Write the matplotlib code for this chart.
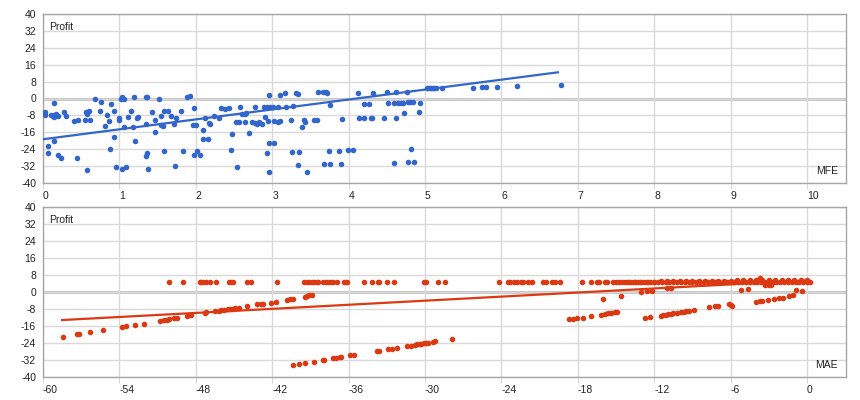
import numpy as np
import matplotlib
matplotlib.use("Agg")
from matplotlib import pyplot as plt

plt.rcParams['font.family'] = ['Liberation Sans', 'DejaVu Sans']
plt.rcParams['axes.unicode_minus'] = False

# =============================================================================
# data
# =============================================================================
# top panel: MFE vs Profit
mfe = [0.02, 0.02, 0.07, 0.07, 0.10, 0.13, 0.14, 0.15, 0.17, 0.20, 0.14, 0.15, 0.19, 0.23,
       0.27, 0.30, 0.41, 0.46, 0.45, 0.55, 0.56, 0.58, 0.60, 0.57, 0.57, 0.62, 0.68, 0.74,
       0.76, 0.81, 0.84, 0.86, 0.88, 0.89, 0.93, 0.93, 0.95, 0.99, 0.99, 1.02, 1.04, 1.06,
       1.04, 1.06, 1.09, 1.11, 1.15, 1.18, 1.19, 1.20, 1.23, 1.24, 1.35, 1.36, 1.35, 1.35,
       1.36, 1.38, 1.43, 1.46, 1.47, 1.52, 1.54, 1.55, 1.57, 1.58, 1.59, 1.64, 1.68, 1.72,
       1.73, 1.74, 1.80, 1.83, 1.88, 1.93, 1.97, 1.96, 2.00, 1.98, 2.01, 2.06, 2.10, 2.10,
       2.16, 2.12, 2.17, 2.18, 2.24, 2.30, 2.33, 2.38, 2.44, 2.46, 2.48, 2.52, 2.54, 2.57,
       2.58, 2.60, 2.64, 2.66, 2.65, 2.70, 2.74, 2.77, 2.80, 2.83, 2.86, 2.77, 2.89, 2.93,
       2.97, 3.01, 2.90, 2.93, 2.95, 2.96, 2.96, 2.96, 3.02, 3.03, 3.07, 3.10, 3.08, 3.10,
       3.17, 3.18, 3.24, 3.26, 3.27, 3.31, 3.34, 3.34, 3.35, 3.39, 3.42, 3.43, 3.45, 3.55,
       3.58, 3.60, 3.66, 3.70, 3.72, 3.68, 3.76, 3.74, 3.76, 3.87, 3.90, 3.92, 3.99, 4.06,
       4.12, 4.14, 4.20, 4.20, 4.27, 4.29, 4.31, 4.32, 4.46, 4.50, 4.51, 4.59, 4.64, 4.68,
       4.71, 4.59, 4.62, 4.62, 4.72, 4.77, 4.78, 4.86, 4.78, 4.81, 4.84, 4.82, 4.92, 4.93,
       5.02, 5.04, 5.06, 5.08, 5.10, 5.12, 5.14, 5.22, 5.63, 5.74, 5.80, 5.94, 6.21, 6.78]
mfe_profit = [-6.5, -7.7, -25.9, -22.3, -8.0, -8.3, -1.9, -8.0, -7.5, -8.2, -8.6, -20.2, -26.9, -28.1,
              -6.5, -8.4, -10.5, -10.2, -28.0, -10.0, -6.2, -7.0, -6.0, -7.5, -34.0, -10.0, 0.0, -6.0,
              -1.7, -13.0, -8.0, -10.6, -23.7, -2.7, -18.0, -5.7, -32.5, -9.0, -10.4, 0.0, 0.5, -0.2,
              -33.5, -13.3, -32.5, -8.8, -5.7, -13.3, 0.5, -20.0, -9.4, -8.8, 0.7, 0.6, -12.3, -27.0,
              -25.6, -33.5, -6.2, -15.8, -10.0, 0.0, -8.5, -12.7, -12.9, -25.0, -5.7, -5.7, -8.5, -12.0,
              -31.8, -9.3, -5.7, -24.8, 0.5, 1.4, -4.7, -12.5, -12.6, -26.7, -24.8, -26.7, -15.0, -19.3,
              -19.3, -9.3, -11.5, -12.3, -8.4, -9.3, -4.6, -4.9, -4.6, -24.2, -16.6, -11.0, -32.2, -11.0,
              -4.1, -7.5, -7.5, -6.8, -11.0, -16.4, -11.0, -4.1, -12.0, -11.0, -12.0, -11.5, -3.8, -3.8,
              -3.8, -3.8, -8.7, -25.9, -10.7, 1.6, -34.8, -21.2, -21.2, -10.7, -11.0, -10.7, -3.8, 1.6,
              2.7, -3.8, -10.4, -25.4, -3.5, 2.8, 2.0, -31.4, -25.4, -13.6, -10.1, -11.2, -34.9, -10.1,
              -10.1, 3.2, 3.0, 3.2, 2.4, -31.1, -31.1, -24.8, -3.2, -24.8, -31.0, -9.6, -24.6, -24.6,
              2.8, -9.3, -9.3, -2.7, -2.4, -9.3, -9.3, 2.8, -9.2, 3.2, -2.0, -2.0, -2.0, -2.0,
              -2.0, -30.3, 3.2, -9.0, -6.8, 3.2, -30.2, -30.2, -1.7, -1.7, -1.7, -23.9, -6.5, -1.9,
              4.9, 4.9, 4.9, 4.9, 4.9, 4.9, 4.9, 4.9, 5.2, 5.4, 5.4, 5.5, 5.7, 6.5]
mfe_trend_x = [0.0, 6.74]
mfe_trend_y = [-19.3, 12.4]

# bottom panel: MAE vs Profit
mae = [-58.4, -57.3, -57.2, -56.3, -55.3, -53.8, -53.5, -52.8, -52.1, -50.8, -50.5, -50.3, -50.1,
       -49.7, -49.5, -48.7, -48.4, -47.3, -47.2, -46.5, -46.2, -46.0, -45.8, -45.5, -45.3, -45.1,
       -44.9, -44.6, -44.0, -43.2, -42.9, -42.7, -42.1, -41.7, -40.8, -40.6, -40.4, -39.4, -39.3,
       -39.1, -38.9,
       -40.4, -39.9, -39.4, -38.7, -38.0, -37.9, -37.2, -37.0, -36.7, -36.6, -35.9, -35.6, -33.8,
       -33.6, -32.9, -32.6, -32.2, -31.4, -31.1, -30.8, -30.6, -30.4, -30.3, -30.1, -29.9, -29.8,
       -29.4, -29.2, -27.9,
       -50.1, -49.0, -47.7, -47.6, -47.4, -47.2, -46.9, -46.4, -45.4, -45.2, -45.1, -44.0, -43.7,
       -41.6, -39.5, -39.3, -39.1, -38.9, -38.7, -38.5, -38.4, -38.0, -37.8, -37.6, -37.4, -37.2,
       -36.9, -36.4, -36.2, -36.1, -34.8, -34.2, -33.7, -33.6, -33.0, -32.4, -30.1, -29.9, -29.0,
       -28.4, -24.2, -23.5, -23.3, -23.0, -22.8, -22.5, -22.3, -21.9, -21.6, -20.7, -20.5, -20.0,
       -19.8, -19.4, -17.7, -17.0, -16.5, -16.3, -15.9, -15.7, -15.2, -15.0, -14.8, -14.5, -14.3,
       -14.1, -13.9, -13.7, -13.5, -13.3, -13.1, -12.8, -12.6, -12.3, -12.0, -11.7, -11.4, -11.1,
       -10.8, -10.5, -10.2, -9.9, -9.6, -9.3, -9.0, -8.7, -8.4, -8.1, -7.8, -7.5, -7.2, -6.9,
       -6.6, -6.3, -6.0, -5.7, -5.4, -5.1, -4.8, -4.5, -4.2, -3.9, -3.6, -3.3, -3.0, -2.7,
       -2.4, -2.1, -1.8, -1.5, -1.2, -0.9, -0.6, -0.3, 0.0, 0.2,
       -14.0, -13.5, -13.0, -12.5, -12.0, -11.5, -11.0, -10.5, -10.0, -9.5, -9.0, -8.5, -8.0,
       -7.5, -7.0, -6.5, -6.0, -5.5, -5.0, -4.5, -4.0, -3.5, -3.0, -2.5, -2.0, -1.5, -1.0, -0.5,
       0.0, -3.7, -3.3, -3.0, -2.8,
       -18.7, -18.4, -18.1, -17.6, -17.0, -16.2, -15.9, -15.6, -15.4, -15.1, -14.9,
       -16.0, -14.6, -13.0, -12.6, -12.2, -11.0, -10.7, -5.2, -4.6, -0.9, -0.4,
       -12.7, -12.3, -11.5, -11.3, -11.1, -10.9, -10.7, -10.5, -10.2, -9.9, -9.7, -9.5, -9.3,
       -8.9, -7.7, -7.2, -7.0, -6.1, -6.0, -5.9,
       -4.0, -3.7, -3.5, -3.1, -2.6, -2.2, -1.9, -1.4, -1.1]
mae_profit = [-21.0, -19.9, -19.9, -18.8, -17.9, -16.3, -16.2, -15.5, -14.9, -13.5, -13.2, -13.0, -12.7,
              -12.4, -12.2, -11.1, -10.9, -10.0, -9.6, -9.1, -8.9, -8.5, -8.5, -8.2, -8.0, -7.9,
              -7.7, -7.5, -6.7, -5.8, -5.6, -5.5, -5.0, -4.5, -3.6, -3.4, -3.3, -2.2, -1.9,
              -1.6, -1.3,
              -34.4, -33.9, -33.6, -33.1, -32.0, -31.8, -31.2, -31.0, -30.7, -30.7, -29.8, -29.6, -27.8,
              -27.6, -26.8, -26.6, -26.4, -25.4, -25.2, -24.9, -24.7, -24.5, -24.3, -24.1, -24.0, -23.8,
              -23.4, -23.2, -22.1,
              4.7, 4.7, 4.7, 4.7, 4.7, 4.7, 4.7, 4.7, 4.7, 4.7, 4.7, 4.7, 4.7,
              4.7, 4.7, 4.7, 4.7, 4.7, 4.7, 4.7, 4.7, 4.7, 4.7, 4.7, 4.7, 4.7,
              4.7, 4.7, 4.7, 4.7, 4.7, 4.7, 4.7, 4.7, 4.7, 4.7, 4.7, 4.7, 4.7,
              4.7, 4.7, 4.7, 4.7, 4.7, 4.7, 4.7, 4.7, 4.7, 4.7, 4.7, 4.7, 4.7,
              4.7, 4.7, 4.7, 4.7, 4.7, 4.7, 4.7, 4.7, 4.7, 4.7, 4.7, 4.7, 4.7,
              4.7, 4.7, 4.7, 4.7, 4.7, 4.7, 4.7, 4.7, 4.7, 4.7, 4.7, 4.6, 4.6,
              4.6, 4.6, 4.6, 4.6, 4.6, 4.6, 4.6, 4.6, 4.6, 4.6, 4.6, 4.6, 4.6, 4.6,
              4.6, 4.6, 4.6, 4.6, 4.6, 4.6, 4.6, 4.6, 4.6, 4.6, 4.6, 4.6, 4.6, 4.6,
              4.6, 4.6, 4.6, 4.6, 4.6, 4.6, 4.6, 4.6, 4.8, 4.9,
              4.7, 4.8, 4.8, 4.9, 4.9, 5.0, 5.0, 5.1, 5.1, 5.2, 5.2, 5.2, 5.3,
              5.3, 5.4, 5.4, 5.4, 5.5, 5.5, 5.5, 5.6, 5.6, 5.7, 5.7, 5.7, 5.8, 5.8, 5.8,
              5.6, 6.7, 3.3, 3.3, 3.3,
              -12.9, -12.7, -12.4, -12.0, -11.5, -10.8, -10.4, -10.0, -9.8, -9.5, -9.3,
              -3.1, -1.7, -0.2, 0.3, 0.5, 1.7, 1.9, 1.1, 1.6, 0.9, 0.6,
              -12.0, -11.9, -11.1, -10.9, -10.7, -10.4, -10.2, -10.0, -9.8, -9.6, -9.3, -9.0, -8.8,
              -8.5, -7.2, -6.6, -6.4, -5.5, -6.1, -6.6,
              -4.5, -4.3, -4.1, -3.6, -3.2, -3.0, -2.6, -1.8, -1.3]
mae_trend_x = [-58.5, 0.0]
mae_trend_y = [-13.2, 5.5]

blue = '#3366cc'
red = '#dc3912'
grid_c = '#d9d9d9'

# =============================================================================
# draw
# =============================================================================
fig = plt.figure(figsize=(8.6, 4.0), dpi=100)
ax1 = fig.add_axes([0.05, 0.5425, 0.9337, 0.4225])
ax2 = fig.add_axes([0.05, 0.0575, 0.9337, 0.425])

def style_axis(ax, xticks, xlim, xname):
    ax.set_xlim(*xlim)
    ax.set_ylim(-40, 40)
    ax.set_yticks(range(-40, 41, 8))
    ax.set_xticks(xticks)
    ax.grid(True, color=grid_c, lw=1, zorder=0)
    ax.axhline(0, color='#bdbdbd', lw=2, zorder=1)
    for s in ax.spines.values():
        s.set_color('#a6a6a6')
        s.set_linewidth(1)
    ax.tick_params(axis='y', length=0, labelsize=7.5, pad=5, labelcolor='#222222')
    ax.tick_params(axis='x', length=4, color=grid_c, labelsize=7.5, pad=2, labelcolor='#222222')
    for lab in ax.get_xticklabels():
        lab.set_horizontalalignment('left')
    ax.text(0.008, 0.955, 'Profit', transform=ax.transAxes, fontsize=7.5, va='top', color='#222222')
    ax.text(0.99, 0.04, xname, transform=ax.transAxes, fontsize=7.5, ha='right', va='bottom',
            color='#222222')

style_axis(ax1, range(0, 11), (0, 10.51), 'MFE')
ax1.scatter(mfe, mfe_profit, s=16, color=blue, lw=0, zorder=3)
ax1.plot(mfe_trend_x, mfe_trend_y, color=blue, lw=1.6, zorder=4)

style_axis(ax2, range(-60, 1, 6), (-60, 3.06), 'MAE')
ax2.scatter(mae, mae_profit, s=16, color=red, lw=0, zorder=3)
ax2.plot(mae_trend_x, mae_trend_y, color=red, lw=1.6, zorder=4)

fig.savefig('out.png', dpi=100)
